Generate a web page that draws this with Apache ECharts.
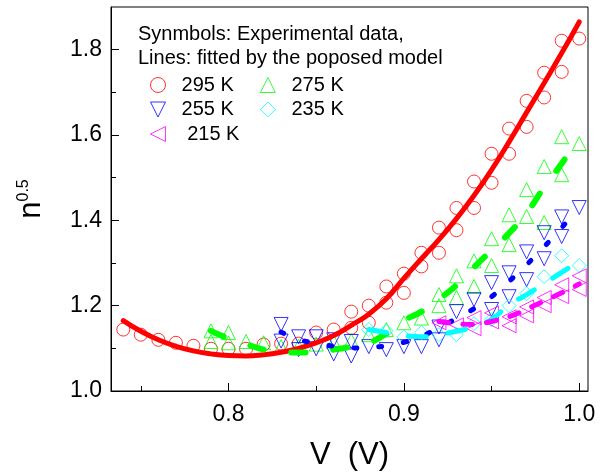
<!DOCTYPE html>
<html><head><meta charset="utf-8">
<script src="https://cdn.jsdelivr.net/npm/echarts@6/dist/echarts.min.js"></script>
<style>html,body{margin:0;padding:0;background:#fff}#c{width:608px;height:476px}</style>
</head><body><div id="c"></div>
<script>
// ---- data ----
const redV = [0.74,0.75,0.76,0.77,0.78,0.79,0.80,0.81,0.82,0.83,0.84,0.85,0.86,0.87,0.87,0.88,0.88,0.89,0.89,0.90,0.90,0.91,0.91,0.92,0.92,0.93,0.93,0.94,0.94,0.95,0.95,0.96,0.96,0.97,0.97,0.98,0.98,0.99,0.99,1.00];
const redN = [1.144,1.132,1.120,1.113,1.106,1.099,1.099,1.099,1.109,1.111,1.111,1.137,1.144,1.186,1.148,1.200,1.160,1.245,1.207,1.275,1.230,1.324,1.292,1.383,1.324,1.429,1.377,1.491,1.429,1.556,1.488,1.615,1.556,1.680,1.619,1.746,1.688,1.821,1.748,1.826];
const greenV = [0.79,0.79,0.80,0.80,0.81,0.82,0.83,0.84,0.85,0.86,0.87,0.88,0.89,0.90,0.91,0.92,0.92,0.93,0.93,0.94,0.94,0.95,0.95,0.96,0.96,0.97,0.97,0.98,0.98,0.99,0.99,1.00];
const greenN = [1.141,1.116,1.137,1.113,1.116,1.113,1.104,1.105,1.110,1.115,1.118,1.132,1.144,1.160,1.171,1.226,1.200,1.270,1.219,1.305,1.245,1.357,1.294,1.413,1.343,1.472,1.409,1.526,1.395,1.596,1.507,1.580];
const blueV = [0.83,0.83,0.84,0.84,0.85,0.85,0.86,0.86,0.87,0.87,0.88,0.89,0.90,0.91,0.92,0.92,0.93,0.94,0.95,0.95,0.96,0.96,0.97,0.97,0.98,0.98,0.99,0.99,1.00];
const blueN = [1.156,1.117,1.127,1.097,1.127,1.099,1.120,1.087,1.116,1.082,1.104,1.097,1.104,1.104,1.150,1.120,1.186,1.214,1.254,1.191,1.277,1.221,1.326,1.261,1.371,1.310,1.408,1.362,1.430];
const cyanV = [0.88,0.89,0.90,0.91,0.92,0.93,0.94,0.95,0.96,0.97,0.98,0.99,1.00];
const cyanN = [1.144,1.141,1.127,1.137,1.132,1.132,1.158,1.167,1.200,1.228,1.268,1.317,1.294];
const magV = [0.92,0.93,0.94,0.94,0.95,0.95,0.96,0.96,0.97,0.97,0.98,0.98,0.99,0.99,1.00,1.00];
const magN = [1.160,1.155,1.172,1.146,1.183,1.162,1.174,1.153,1.197,1.176,1.219,1.200,1.249,1.221,1.270,1.238];

// fitted model curves
const redFitV = [0.74,0.75,0.76,0.77,0.78,0.79,0.80,0.81,0.82,0.83,0.84,0.85,0.86,0.87,0.88,0.89,0.90,0.91,0.92,0.93,0.94,0.95,0.96,0.97,0.98,0.99,1.00];
const redFitN = [1.165,1.140,1.120,1.105,1.094,1.087,1.083,1.082,1.085,1.091,1.100,1.113,1.130,1.154,1.180,1.216,1.264,1.310,1.355,1.404,1.458,1.518,1.584,1.653,1.722,1.792,1.865];
const greenFitV = [0.79,0.80,0.81,0.82,0.83,0.84,0.85,0.86,0.87,0.88,0.89,0.90,0.91,0.92,0.93,0.94,0.95,0.96,0.97,0.98,0.99,1.00];
const greenFitN = [1.141,1.123,1.110,1.097,1.092,1.090,1.091,1.097,1.104,1.113,1.135,1.165,1.186,1.215,1.248,1.290,1.330,1.370,1.417,1.478,1.533,1.593];
const blueFitV = [0.83,0.84,0.85,0.86,0.87,0.88,0.89,0.90,0.91,0.92,0.93,0.94,0.95,0.96,0.97,0.98,0.99,1.00];
const blueFitN = [1.138,1.121,1.112,1.105,1.101,1.102,1.106,1.114,1.128,1.149,1.170,1.193,1.221,1.257,1.296,1.338,1.383,1.430];
const cyanFitV = [0.88,0.89,0.90,0.91,0.92,0.93,0.94,0.95,0.96,0.97,0.98,0.99,1.00];
const cyanFitN = [1.144,1.137,1.130,1.127,1.133,1.140,1.151,1.168,1.202,1.226,1.252,1.278,1.305];
const magFitV = [0.92,0.93,0.94,0.95,0.96,0.97,0.98,0.99,1.00];
const magFitN = [1.163,1.158,1.156,1.163,1.174,1.192,1.211,1.230,1.251];

const xMajor = [0.8,0.9,1.0];
const xMinor = [0.75,0.85,0.95];
const yMajor = [1.0,1.2,1.4,1.6,1.8];
const yMinor = [1.1,1.3,1.5,1.7];
const names = ['295 K','275 K','255 K','235 K','215 K'];

const FONT = 'Liberation Sans, Arial, sans-serif';
const zip = (a,b) => a.map((v,i)=>[v,b[i]]);
const C = {r:'#ff0000', g:'#00ff00', b:'#0000ff', c:'#00ffff', m:'#ff00ff'};
const ICON = {
  circle:'circle',
  up:'path://M5,0L10,10L0,10Z',
  down:'path://M0,0L10,0L5,10Z',
  diamond:'path://M5,0L10,5L5,10L0,5Z',
  left:'path://M0,5L10,0L10,10Z'
};

function scat(name, V, N, col, symbol, size, rot){
  return {type:'scatter', name, data: zip(V,N), symbol, symbolSize:size, symbolRotate:rot||0,
    itemStyle:{color:'rgba(0,0,0,0)', borderColor:col, borderWidth:1}, z:2, emphasis:{disabled:true}};
}
function fit(name, V, N, col, w, dash){
  return {type:'line', name, data: zip(V,N), smooth:true, showSymbol:false, symbol:'none',
    lineStyle:{color:col, width:w, type: dash || 'solid', cap:'round'}, z:3, emphasis:{disabled:true}};
}
const legText = {fontFamily:FONT, fontSize:20, color:'#000'};
function leg(items, top, extra){
  return Object.assign({data:items, left:150, top, padding:0, itemWidth:15, itemHeight:15, itemGap:26,
    symbolRotate:0, formatter: n => '  ' + n, textStyle:legText, selectedMode:false}, extra||{});
}

const axBase = (extra) => Object.assign({type:'value', gridIndex:0, splitLine:{show:false}}, extra);

const chart = echarts.init(document.getElementById('c'), null, {renderer:'canvas'});
chart.setOption({
  animation:false,
  backgroundColor:'#fff',
  textStyle:{fontFamily:FONT},
  title:{text:'Synmbols: Experimental data,\nLines: fitted by the poposed model', left:138, top:22, padding:0,
    textStyle:{fontFamily:FONT, fontSize:20, fontWeight:'normal', color:'#000', lineHeight:24.5}},
  legend:[
    leg([{name:names[0], icon:ICON.circle, itemStyle:{borderColor:C.r, color:'rgba(0,0,0,0)', borderWidth:1}},
         {name:names[1], icon:ICON.up, itemStyle:{borderColor:C.g, color:'rgba(0,0,0,0)', borderWidth:1}}], 75),
    leg([{name:names[2], icon:ICON.down, itemStyle:{borderColor:C.b, color:'rgba(0,0,0,0)', borderWidth:1}},
         {name:names[3], icon:ICON.diamond, itemStyle:{borderColor:C.c, color:'rgba(0,0,0,0)', borderWidth:1}}], 99.5),
    leg([{name:names[4], icon:ICON.left, itemStyle:{borderColor:C.m, color:'rgba(0,0,0,0)', borderWidth:1}}], 124,
        {formatter: n => '   ' + n})
  ],
  grid:{left:111, right:20, top:7, bottom:85, show:true, borderColor:'#000', borderWidth:1, backgroundColor:'transparent'},
  xAxis:[
    axBase({min:0.733, max:1.005, position:'bottom',
      axisLine:{show:true, lineStyle:{color:'#000', width:1}},
      axisTick:{show:true, inside:true, length:8, customValues:xMajor, lineStyle:{color:'#000'}},
      axisLabel:{show:true, customValues:xMajor, formatter:v=>v.toFixed(1), fontSize:23, color:'#000', margin:12, fontFamily:FONT},
      name:'V  (V)', nameLocation:'middle', nameGap:49, nameTextStyle:{fontSize:31, color:'#000', fontFamily:FONT}}),
    axBase({min:0.733, max:1.005, position:'bottom',
      axisLine:{show:false},
      axisTick:{show:true, inside:true, length:5, customValues:xMinor, lineStyle:{color:'#000'}},
      axisLabel:{show:false}})
  ],
  yAxis:[
    axBase({min:1.0, max:1.9, position:'left',
      axisLine:{show:true, lineStyle:{color:'#000', width:1}},
      axisTick:{show:true, inside:true, length:8, customValues:yMajor, lineStyle:{color:'#000'}},
      axisLabel:{show:true, customValues:yMajor, formatter:v=>v.toFixed(1), fontSize:23, color:'#000', margin:9, fontFamily:FONT},
      name:'{n|n}{s|0.5}', nameLocation:'middle', nameGap:64, nameRotate:90,
      nameTextStyle:{color:'#000', fontFamily:FONT,
        rich:{n:{fontSize:31, color:'#000', fontFamily:FONT, verticalAlign:'bottom'},
              s:{fontSize:16, color:'#000', fontFamily:FONT, verticalAlign:'top'}}}}),
    axBase({min:1.0, max:1.9, position:'left',
      axisLine:{show:false},
      axisTick:{show:true, inside:true, length:5, customValues:yMinor, lineStyle:{color:'#000'}},
      axisLabel:{show:false}})
  ],
  series:[
    scat(names[0], redV, redN, C.r, 'circle', 13),
    scat(names[1], greenV, greenN, C.g, 'triangle', 14),
    scat(names[2], blueV, blueN, C.b, 'triangle', 14, 180),
    scat(names[3], cyanV, cyanN, C.c, 'diamond', 14),
    scat(names[4], magV, magN, C.m, 'triangle', 14, 90),
    fit('fit295', redFitV, redFitN, C.r, 5),
    fit('fit275', greenFitV, greenFitN, C.g, 6, [14,28]),
    fit('fit255', blueFitV, blueFitN, C.b, 5, [3,22]),
    fit('fit235', cyanFitV, cyanFitN, C.c, 5, [18,22]),
    fit('fit215', magFitV, magFitN, C.m, 5, [10,14])
  ]
});
</script>
</body></html>
